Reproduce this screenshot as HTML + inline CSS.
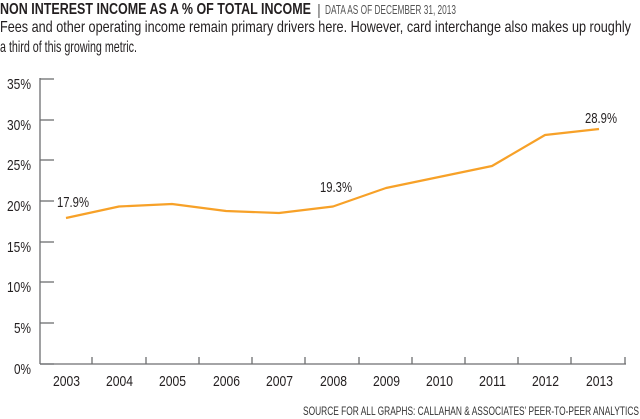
<!DOCTYPE html>
<html><head><meta charset="utf-8"><style>
html,body{margin:0;padding:0;background:#fff;}
svg{display:block;font-family:"Liberation Sans",sans-serif;}
</style></head><body>
<svg width="640" height="419" viewBox="0 0 640 419" xmlns="http://www.w3.org/2000/svg">
<text x="0" y="14" font-size="16" font-weight="bold" fill="#231f20" textLength="311" lengthAdjust="spacingAndGlyphs">NON INTEREST INCOME AS A % OF TOTAL INCOME</text>
<text x="317" y="15" font-size="15" fill="#666">|</text>
<text x="325" y="14" font-size="13" fill="#555" textLength="131" lengthAdjust="spacingAndGlyphs">DATA AS OF DECEMBER 31, 2013</text>
<text x="0" y="32" font-size="16" fill="#231f20" textLength="631" lengthAdjust="spacingAndGlyphs">Fees and other operating income remain primary drivers here. However, card interchange also makes up roughly</text>
<text x="0" y="52" font-size="16" fill="#231f20" textLength="137" lengthAdjust="spacingAndGlyphs">a third of this growing metric.</text>

<g stroke="#6d6e71" stroke-width="1.3" fill="none">
<line x1="40" y1="78" x2="40" y2="364"/>
<line x1="40" y1="364" x2="626" y2="364"/>
<line x1="40" y1="79" x2="54" y2="79"/>
<line x1="40" y1="120" x2="54" y2="120"/>
<line x1="40" y1="160" x2="54" y2="160"/>
<line x1="40" y1="201" x2="54" y2="201"/>
<line x1="40" y1="242" x2="54" y2="242"/>
<line x1="40" y1="282" x2="54" y2="282"/>
<line x1="40" y1="323" x2="54" y2="323"/>
<line x1="40" y1="364" x2="54" y2="364"/>
<line x1="92" y1="357" x2="92" y2="364"/>
<line x1="146" y1="357" x2="146" y2="364"/>
<line x1="199" y1="357" x2="199" y2="364"/>
<line x1="252" y1="357" x2="252" y2="364"/>
<line x1="305" y1="357" x2="305" y2="364"/>
<line x1="359" y1="357" x2="359" y2="364"/>
<line x1="412" y1="357" x2="412" y2="364"/>
<line x1="465" y1="357" x2="465" y2="364"/>
<line x1="518" y1="357" x2="518" y2="364"/>
<line x1="571" y1="357" x2="571" y2="364"/>
<line x1="625" y1="357" x2="625" y2="364"/>
</g>
<g font-size="15" fill="#231f20" text-anchor="end">
<text x="31" y="89" textLength="24" lengthAdjust="spacingAndGlyphs">35%</text>
<text x="31" y="130" textLength="24" lengthAdjust="spacingAndGlyphs">30%</text>
<text x="31" y="170" textLength="24" lengthAdjust="spacingAndGlyphs">25%</text>
<text x="31" y="211" textLength="24" lengthAdjust="spacingAndGlyphs">20%</text>
<text x="31" y="252" textLength="24" lengthAdjust="spacingAndGlyphs">15%</text>
<text x="31" y="292" textLength="24" lengthAdjust="spacingAndGlyphs">10%</text>
<text x="31" y="333" textLength="17" lengthAdjust="spacingAndGlyphs">5%</text>
<text x="31" y="374" textLength="17" lengthAdjust="spacingAndGlyphs">0%</text>
</g>
<g font-size="15" fill="#231f20">
<text x="53" y="386" textLength="27" lengthAdjust="spacingAndGlyphs">2003</text>
<text x="106" y="386" textLength="27" lengthAdjust="spacingAndGlyphs">2004</text>
<text x="159" y="386" textLength="27" lengthAdjust="spacingAndGlyphs">2005</text>
<text x="213" y="386" textLength="27" lengthAdjust="spacingAndGlyphs">2006</text>
<text x="266" y="386" textLength="27" lengthAdjust="spacingAndGlyphs">2007</text>
<text x="320" y="386" textLength="27" lengthAdjust="spacingAndGlyphs">2008</text>
<text x="373" y="386" textLength="27" lengthAdjust="spacingAndGlyphs">2009</text>
<text x="426" y="386" textLength="27" lengthAdjust="spacingAndGlyphs">2010</text>
<text x="479" y="386" textLength="27" lengthAdjust="spacingAndGlyphs">2011</text>
<text x="532" y="386" textLength="27" lengthAdjust="spacingAndGlyphs">2012</text>
<text x="586" y="386" textLength="27" lengthAdjust="spacingAndGlyphs">2013</text>
</g>
<polyline fill="none" stroke="#f7a128" stroke-width="2.2" stroke-linejoin="round" points="66,218 119,206.5 172,204 226,211 279,213 333,206.5 386,188 439,177 492,166 545,135 599,129"/>
<g font-size="15" fill="#231f20">
<text x="57" y="207" textLength="32" lengthAdjust="spacingAndGlyphs">17.9%</text>
<text x="320" y="192" textLength="32" lengthAdjust="spacingAndGlyphs">19.3%</text>
<text x="585" y="123" textLength="32" lengthAdjust="spacingAndGlyphs">28.9%</text>
</g>
<text x="303" y="415" font-size="12" fill="#333" textLength="336" lengthAdjust="spacingAndGlyphs">SOURCE FOR ALL GRAPHS: CALLAHAN &amp; ASSOCIATES’ PEER-TO-PEER ANALYTICS</text>
</svg>
</body></html>
